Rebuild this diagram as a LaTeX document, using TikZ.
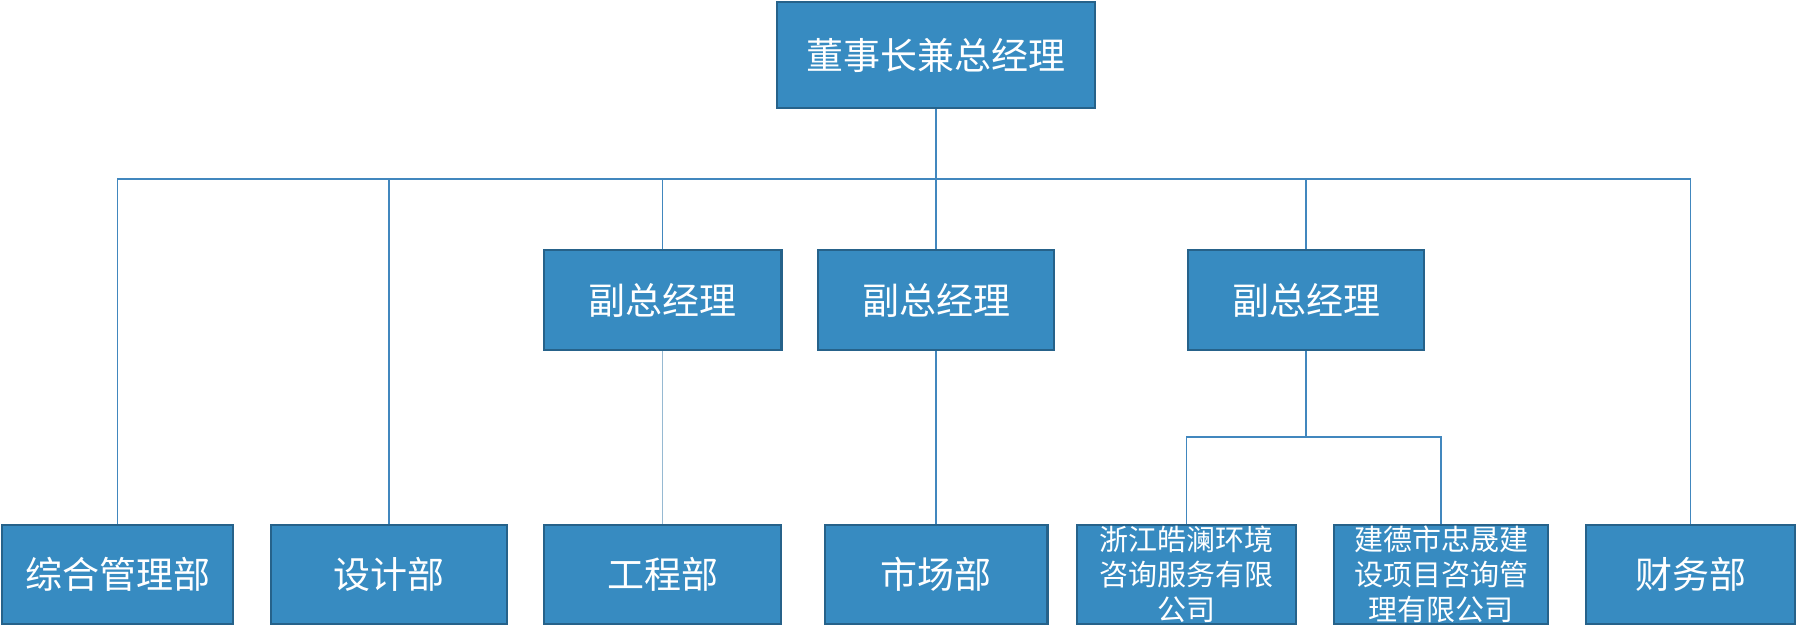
\documentclass[tikz,border=0pt]{standalone}
\usepackage{fontspec}
\newfontfamily\cjk{Noto Sans CJK SC}
\definecolor{boxfill}{RGB}{55,139,193}
\definecolor{boxedge}{RGB}{38,98,138}
\definecolor{linkc}{RGB}{65,135,190}
\definecolor{linkl}{RGB}{150,185,210}
\tikzset{
  orgbox/.style={draw=boxedge, fill=boxfill, line width=2.4pt, inner sep=0pt,
    text=white, font=\cjk\fontsize{37}{44}\selectfont, align=center},
  smallbox/.style={orgbox, font=\cjk\fontsize{29}{35}\selectfont},
  link/.style={draw=linkc, line width=1.1pt},
  linklight/.style={draw=linkl, line width=1.1pt}
}
\begin{document}
\begin{tikzpicture}[x=1pt,y=-1pt]
\useasboundingbox (0,0) rectangle (1797,644);
\coordinate (busY) at (0,179);
\coordinate (bus2Y) at (0,437);
% top
\node[orgbox, minimum width=317.6pt, minimum height=105.6pt] (top) at (936,55) {董事长兼总经理};
% vice general managers
\node[orgbox, minimum width=237.6pt, minimum height=100.1pt] (vp1) at (662.5,300) {副总经理};
\node[orgbox, minimum width=236.1pt, minimum height=100.1pt] (vp2) at (936,300) {副总经理};
\node[orgbox, minimum width=236.1pt, minimum height=100.1pt] (vp3) at (1306,300) {副总经理};
% bottom row
\node[orgbox, minimum width=230.6pt, minimum height=98.6pt] (b1) at (117.5,574.5) {综合管理部};
\node[orgbox, minimum width=235.6pt, minimum height=98.6pt] (b2) at (389,574.5) {设计部};
\node[orgbox, minimum width=236.6pt, minimum height=98.6pt] (b3) at (662.5,574.5) {工程部};
\node[orgbox, minimum width=222.6pt, minimum height=98.6pt] (b4) at (936,574.5) {市场部};
\node[smallbox, minimum width=218.6pt, minimum height=98.6pt] (b5) at (1186.5,574.5) {浙江皓澜环境\\咨询服务有限\\公司};
\node[smallbox, minimum width=213.6pt, minimum height=98.6pt] (b6) at (1441,574.5) {建德市忠晟建\\设项目咨询管\\理有限公司};
\node[orgbox, minimum width=208.6pt, minimum height=98.6pt] (b7) at (1690.5,574.5) {财务部};
% connectors
\draw[link] (top.south) -- (top.south |- busY);
\draw[link] (b1.north) -- (b1.north |- busY) -- (b7.north |- busY) -- (b7.north);
\draw[link] (b2.north) -- (b2.north |- busY);
\draw[link] (vp1.north) -- (vp1.north |- busY);
\draw[link] (vp2.north) -- (vp2.north |- busY);
\draw[link] (vp3.north) -- (vp3.north |- busY);
\draw[linklight] (vp1.south) -- (b3.north);
\draw[link] (vp2.south) -- (b4.north);
\draw[link] (vp3.south) -- (vp3.south |- bus2Y);
\draw[link] (b5.north) -- (b5.north |- bus2Y) -- (b6.north |- bus2Y) -- (b6.north);
\end{tikzpicture}
\end{document}
